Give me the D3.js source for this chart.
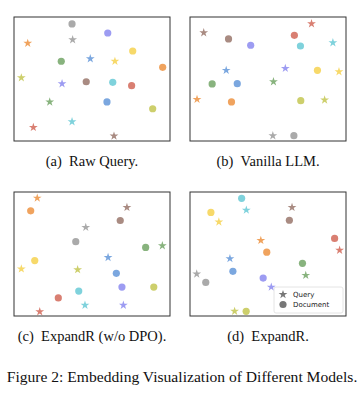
<!DOCTYPE html>
<html>
<head>
<meta charset="utf-8">
<script src="https://cdn.jsdelivr.net/npm/d3@7"></script>
<style>
  body { margin: 0; background: #fff; }
  .caption { font-family: "Liberation Serif", "Times New Roman", serif; fill: #111; }
  .legend-text { font-family: "DejaVu Sans", sans-serif; font-size: 7px; fill: #222; }
</style>
</head>
<body>
<script>
// one colour per query/document pair
const categories = ["gray", "violet", "orange", "yellow", "blue", "green", "olive", "brown", "cyan", "red"];
const pairColors = ["#aaaaaa", "#9d9cf2", "#f0a35e", "#f7d96a", "#7ba7df", "#88b37e", "#cdcf6c", "#a98b82", "#7fd2dc", "#d97f72"];

const panelTitles = ["(a)\u2002Raw Query.", "(b)\u2002Vanilla LLM.", "(c)\u2002ExpandR (w/o DPO).", "(d)\u2002ExpandR."];

// (a) Raw Query
const rawQueryX = [37.6, 30.8, 8.8, 64.7, 48.9, 22.9, 4.7, 64.1, 37.2, 12.4];
const rawQueryY = [81.7, 46.2, 78.8, 64.3, 66.4, 31.5, 51.0, 4.0, 15.6, 11.0];
const rawDocX = [37.2, 60.1, 95.3, 76.1, 59.6, 30.3, 88.9, 46.3, 63.3, 75.4];
const rawDocY = [94.4, 87.1, 59.4, 72.6, 31.5, 64.3, 26.0, 47.8, 47.3, 44.6];

// (b) Vanilla LLM
const vanillaQueryX = [53.1, 61.1, 4.5, 95.5, 23.2, 53.5, 86.3, 8.8, 91.6, 77.9];
const vanillaQueryY = [4.3, 58.6, 33.6, 55.9, 57.0, 47.8, 33.1, 87.3, 79.3, 94.6];
const vanillaDocX = [66.6, 38.9, 26.6, 81.7, 30.3, 14.2, 71.0, 24.7, 70.8, 66.9];
const vanillaDocY = [4.3, 77.2, 31.5, 57.0, 46.2, 46.0, 32.5, 82.3, 76.6, 85.2];

// (c) ExpandR w/o DPO
const noDpoQueryX = [46.0, 70.1, 14.9, 4.7, 60.3, 95.1, 40.8, 72.4, 45.5, 16.5];
const noDpoQueryY = [71.5, 8.7, 95.1, 38.0, 47.2, 56.7, 37.4, 87.6, 8.7, 3.5];
const noDpoDocX = [39.6, 69.2, 10.7, 13.3, 65.6, 84.4, 89.6, 68.1, 41.5, 28.4];
const noDpoDocY = [59.9, 23.3, 84.8, 44.7, 34.4, 55.3, 23.3, 77.0, 20.1, 14.6];

// (d) ExpandR
const expandQueryX = [4.3, 52.1, 45.4, 18.5, 25.6, 74.2, 28.6, 65.4, 36.1, 95.9];
const expandQueryY = [33.9, 23.3, 61.0, 75.9, 46.3, 32.8, 3.8, 87.6, 85.4, 53.1];
const expandDocX = [10.1, 46.9, 49.2, 13.4, 27.5, 72.1, 36.0, 63.7, 33.1, 92.7];
const expandDocY = [27.1, 30.6, 51.5, 83.5, 36.0, 42.5, 3.8, 77.2, 94.9, 62.6];

const legendLabels = ["Query", "Document"];
const figureCaption = "Figure 2: Embedding Visualization of Different Models.";

const panelData = [
  [rawQueryX, rawQueryY, rawDocX, rawDocY],
  [vanillaQueryX, vanillaQueryY, vanillaDocX, vanillaDocY],
  [noDpoQueryX, noDpoQueryY, noDpoDocX, noDpoDocY],
  [expandQueryX, expandQueryY, expandDocX, expandDocY]
];

const width = 364;
const height = 394;
const panelW = 156;
const panelH = 124;
const panelLeft = [14, 190];
const panelTop = [17, 192];

const color = d3.scaleOrdinal().domain(categories).range(pairColors);
const x = d3.scaleLinear().domain([0, 100]).range([0, panelW]);
const y = d3.scaleLinear().domain([0, 100]).range([panelH, 0]);

const star = d3.symbol().type(d3.symbolStar).size(24);

let svg = d3.select("body").append("svg")
    .attr("width", width)
    .attr("height", height);

panelData.forEach(function(d, i) {
    let g = svg.append("g")
        .attr("transform", `translate(${panelLeft[i % 2]},${panelTop[Math.floor(i / 2)]})`);

    let docs = categories.map(function(c, k) { return {cat: c, x: d[2][k], y: d[3][k]}; });
    let queries = categories.map(function(c, k) { return {cat: c, x: d[0][k], y: d[1][k]}; });

    g.selectAll(".doc")
        .data(docs)
        .enter()
        .append("circle")
        .attr("cx", function(p) { return x(p.x); })
        .attr("cy", function(p) { return y(p.y); })
        .attr("r", 3.6)
        .attr("fill", function(p) { return color(p.cat); });

    g.selectAll(".query")
        .data(queries)
        .enter()
        .append("path")
        .attr("d", star)
        .attr("transform", function(p) { return `translate(${x(p.x)},${y(p.y)})`; })
        .attr("fill", function(p) { return color(p.cat); });

    g.append("rect")
        .attr("width", panelW)
        .attr("height", panelH)
        .attr("fill", "none")
        .attr("stroke", "#333")
        .attr("stroke-width", 1);

    g.append("text")
        .attr("class", "caption")
        .attr("x", panelW / 2)
        .attr("y", panelH + 25)
        .attr("text-anchor", "middle")
        .style("font-size", "14.5px")
        .text(panelTitles[i]);

    if (i === 3) {
        let lg = g.append("g").attr("transform", "translate(84,95)");
        lg.append("rect")
            .attr("width", 69)
            .attr("height", 26)
            .attr("rx", 2)
            .attr("fill", "#fff")
            .attr("fill-opacity", 0.8)
            .attr("stroke", "#ddd")
            .attr("stroke-width", 0.8);
        lg.append("path")
            .attr("d", star)
            .attr("transform", "translate(9,7.5)")
            .attr("fill", "#777");
        lg.append("circle")
            .attr("cx", 9)
            .attr("cy", 17.5)
            .attr("r", 3.6)
            .attr("fill", "#777");
        lg.selectAll(".legend-text")
            .data(legendLabels)
            .enter()
            .append("text")
            .attr("class", "legend-text")
            .attr("x", 19)
            .attr("y", function(t, k) { return 10 + k * 10; })
            .text(function(t) { return t; });
    }
});

svg.append("text")
    .attr("class", "caption")
    .attr("x", width / 2)
    .attr("y", 382)
    .attr("text-anchor", "middle")
    .style("font-size", "15.6px")
    .text(figureCaption);
</script>
</body>
</html>
